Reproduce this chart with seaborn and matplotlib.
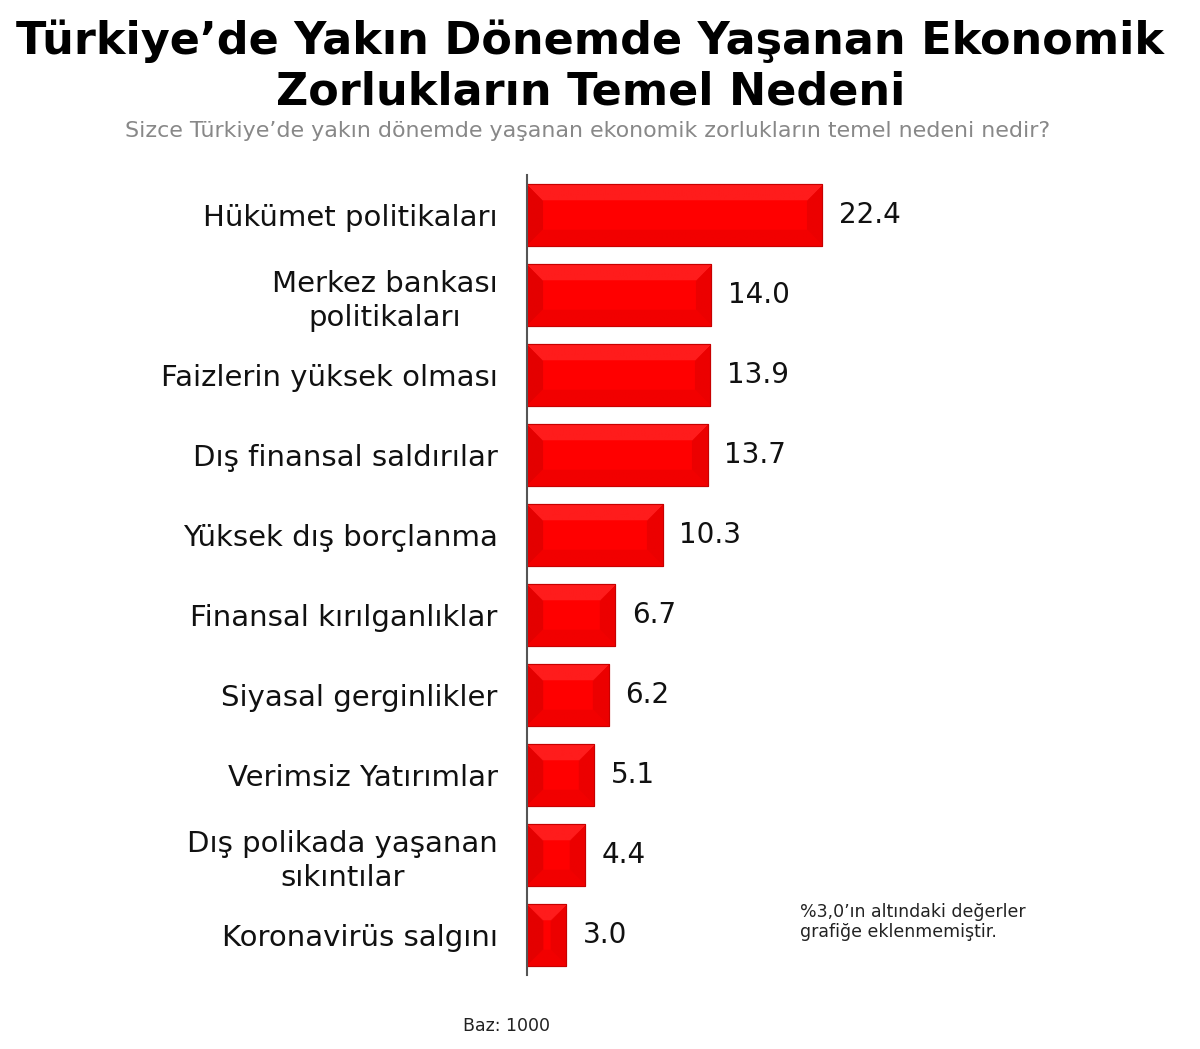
import numpy as np
import pandas as pd
import matplotlib
matplotlib.use("Agg")
import matplotlib.pyplot as plt
import matplotlib.colors as mcolors
import seaborn as sns

# Data
categories = [
    "Hükümet politikaları",
    "Merkez bankası\npolitikaları",
    "Faizlerin yüksek olması",
    "Dış finansal saldırılar",
    "Yüksek dış borçlanma",
    "Finansal kırılganlıklar",
    "Siyasal gerginlikler",
    "Verimsiz Yatırımlar",
    "Dış polikada yaşanan\nsıkıntılar",
    "Koronavirüs salgını",
]
values = [22.4, 14.0, 13.9, 13.7, 10.3, 6.7, 6.2, 5.1, 4.4, 3.0]

title = "Türkiye’de Yakın Dönemde Yaşanan Ekonomik\nZorlukların Temel Nedeni"
subtitle = "Sizce Türkiye’de yakın dönemde yaşanan ekonomik zorlukların temel nedeni nedir?"
note = "%3,0’ın altındaki değerler\ngrafiğe eklenmemiştir."
base = "Baz: 1000"

df = pd.DataFrame({"category": categories, "value": values})

sns.set_style("white")
plt.rcParams["font.family"] = ["DejaVu Sans"]

fig = plt.figure(figsize=(12, 10.49), dpi=100)
ax = fig.add_axes([0.439, 0.0705, 0.52, 0.7625])

sns.barplot(data=df, x="value", y="category", color="#ff0000", width=0.77,
            saturation=1, edgecolor="#c00000", linewidth=0.8, ax=ax)

ax.set_xlim(0, 47.3)
ax.set_ylim(len(categories) - 0.5, -0.5)

# subtle bevel shading: facets (top, bottom, left, right) and flat centre
facet = np.array([mcolors.to_rgb(c) for c in
                  ["#ff1c1c", "#f20000", "#e40000", "#ec0000"]])
centre = np.array(mcolors.to_rgb("#ff0000"))
bevel = 16
for p in ax.patches:
    x0, y0, w, h = p.get_x(), p.get_y(), p.get_width(), p.get_height()
    (px0, py0), (px1, py1) = ax.transData.transform([(x0, y0), (x0 + w, y0 + h)])
    W, H = max(int(abs(px1 - px0)), 2), max(int(abs(py1 - py0)), 2)
    yy, xx = np.mgrid[0:H, 0:W] + 0.5
    d = np.stack([yy, H - yy, xx, W - xx])
    idx = d.argmin(axis=0)
    img = np.where((d.min(axis=0) < bevel)[..., None], facet[idx], centre)
    ax.imshow(img, extent=[x0, x0 + w, y0 + h, y0], aspect="auto",
              interpolation="bilinear", zorder=p.get_zorder() + 0.1)
    ax.add_patch(plt.Rectangle((x0, y0), w, h, fill=False, edgecolor="#c80000",
                               linewidth=0.8, zorder=p.get_zorder() + 0.2))

ax.set_xlim(0, 47.3)
ax.set_ylim(len(categories) - 0.5, -0.5)

ax.bar_label(ax.containers[0], fmt="%.1f", padding=12, fontsize=20, color="#111111")

ax.set_xlabel("")
ax.set_ylabel("")
ax.set_xticks([])
ax.tick_params(axis="y", which="major", length=0, pad=21, labelsize=21)
ax.set_yticks(np.arange(-0.5, len(categories), 1), minor=True)
ax.tick_params(axis="y", which="minor", length=8, color="#555555", width=1.5)
for lbl in ax.get_yticklabels():
    lbl.set_multialignment("center")
    lbl.set_linespacing(1.25)
    lbl.set_color("#111111")

for s in ["top", "right", "bottom"]:
    ax.spines[s].set_visible(False)
ax.spines["left"].set_color("#555555")
ax.spines["left"].set_linewidth(1.5)

fig.text(0.492, 0.937, title, ha="center", va="center", fontsize=32,
         fontweight="bold", linespacing=1.22, color="black")
fig.text(0.49, 0.875, subtitle, ha="center", va="center", fontsize=15.9, color="#888888")
fig.text(0.667, 0.121, note, ha="left", va="center", fontsize=12.5, color="#222222",
         linespacing=1.15)
fig.text(0.422, 0.022, base, ha="center", va="center", fontsize=12.5, color="#222222")

fig.savefig("out.png", dpi=100)
